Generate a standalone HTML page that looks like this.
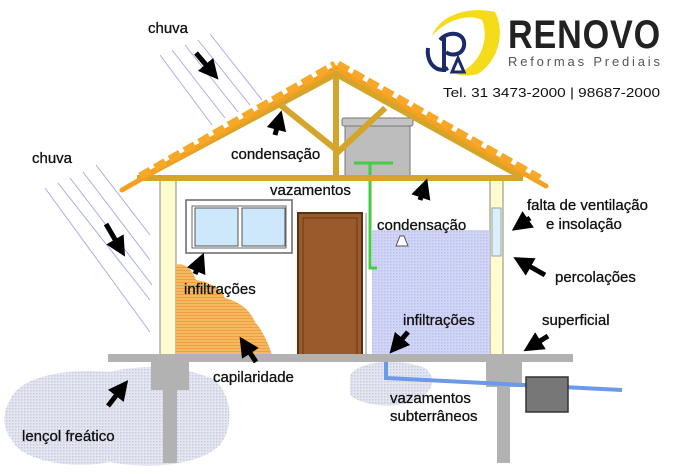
<!DOCTYPE html>
<html><head><meta charset="utf-8"><style>
html,body{margin:0;padding:0;background:#fff}
svg{display:block}
text{font-family:"Liberation Sans",sans-serif}
</style></head><body>
<svg width="681" height="474" viewBox="0 0 681 474" xmlns="http://www.w3.org/2000/svg">
<defs>
<pattern id="dots" width="3" height="3" patternUnits="userSpaceOnUse"><rect width="3" height="3" fill="#e4e6f0"/><rect width="1.5" height="1.5" fill="#c8cbe0"/></pattern>
<pattern id="blu" width="3" height="3" patternUnits="userSpaceOnUse"><rect width="3" height="3" fill="#d2d6f6"/><rect width="1.5" height="1.5" fill="#bcc0ee"/></pattern>
<pattern id="org" width="3" height="3" patternUnits="userSpaceOnUse"><rect width="3" height="3" fill="#f6b860"/><rect width="3" height="1" fill="#eca040"/></pattern>
<marker id="ah" markerWidth="4" markerHeight="4" refX="2" refY="2" orient="auto" markerUnits="strokeWidth"><path d="M0,0 L4,2 L0,4 z" fill="#000"/></marker>
</defs>
<path d="M10,400 C20,375 70,368 110,372 C150,362 190,368 215,380 C235,400 232,430 220,445 C200,465 150,470 110,462 C70,470 20,460 12,440 C0,425 4,410 10,400z" fill="url(#dots)"/>
<path d="M350,375 C360,360 400,358 425,368 C440,380 430,395 415,400 C395,410 360,405 350,395z" fill="url(#dots)"/>
<g stroke="#a8aee0" stroke-width="1">
<line x1="160" y1="55" x2="212" y2="125"/><line x1="172" y1="50" x2="225" y2="118"/><line x1="185" y1="45" x2="238" y2="112"/><line x1="198" y1="40" x2="250" y2="105"/><line x1="210" y1="34" x2="262" y2="100"/>
<line x1="45" y1="188" x2="150" y2="332"/><line x1="58" y1="183" x2="150" y2="300"/><line x1="70" y1="178" x2="152" y2="285"/><line x1="83" y1="172" x2="150" y2="260"/><line x1="96" y1="165" x2="150" y2="235"/>
</g>
<rect x="160" y="178" width="16" height="178" fill="#fffbd0" stroke="#8a8a70" stroke-width="1"/>
<rect x="490" y="178" width="13" height="178" fill="#fffbd0" stroke="#8a8a70" stroke-width="1"/>
<rect x="492" y="208" width="9" height="48" fill="#ddeeff" stroke="#8aa" stroke-width="1"/>
<rect x="372" y="230" width="118" height="126" fill="url(#blu)"/>
<path d="M176,265 C186,262 192,270 196,280 C210,282 220,288 225,298 C240,302 250,310 255,322 C262,330 268,342 272,355 L176,355z" fill="url(#org)"/>
<rect x="186" y="200" width="106" height="53" fill="#fff" stroke="#666" stroke-width="1.5"/>
<rect x="192" y="206" width="94" height="42" fill="#fff" stroke="#666" stroke-width="1"/>
<rect x="195" y="208" width="43" height="38" fill="#cde8fb" stroke="#555"/>
<rect x="242" y="208" width="43" height="38" fill="#cde8fb" stroke="#555"/>
<rect x="298" y="213" width="64" height="143" fill="#9b5a2c" stroke="#5a3010" stroke-width="2"/>
<rect x="303" y="218" width="54" height="138" fill="none" stroke="#6a3a15" stroke-width="1"/>
<line x1="366" y1="213" x2="366" y2="356" stroke="#888" stroke-width="1"/>
<path d="M396,246 L400,236 L404,236 L408,246z" fill="#fff" stroke="#555"/>
<rect x="345" y="124" width="65" height="52" fill="#bdbdbd" stroke="#777"/>
<rect x="342" y="118" width="71" height="8" rx="2" fill="#c4c4c4" stroke="#777"/>
<g stroke="#44cc44" stroke-width="3" fill="none"><line x1="354" y1="163" x2="393" y2="163"/><path d="M370,163 V268 H377"/></g>
<g stroke="#d4a52a" stroke-width="6" stroke-linecap="square">
<line x1="140" y1="178" x2="520" y2="178"/>
<line x1="145" y1="176" x2="336" y2="74"/>
<line x1="336" y1="74" x2="520" y2="176"/>
<line x1="336" y1="74" x2="336" y2="176"/>
<line x1="283" y1="107" x2="334" y2="148"/>
<line x1="338" y1="152" x2="383" y2="110"/>
</g>
<g stroke="#f5a020" stroke-width="5" fill="none" stroke-linecap="round">
<path d="M122,190 L336,68 L546,186"/>
</g>
<g stroke="#f7a828" stroke-width="7" stroke-dasharray="12 5">
<line x1="140" y1="176" x2="335" y2="64"/><line x1="338" y1="64" x2="540" y2="178"/>
</g>
<rect x="108" y="354" width="465" height="8" fill="#b2b2b2"/>
<rect x="151" y="362" width="38" height="28" fill="#b2b2b2"/>
<rect x="163" y="388" width="14" height="75" fill="#b2b2b2"/>
<rect x="486" y="362" width="36" height="25" fill="#b2b2b2"/>
<rect x="497" y="385" width="13" height="78" fill="#b2b2b2"/>
<path d="M386,362 V378 L622,390" stroke="#6a9ae8" stroke-width="4" fill="none"/>
<rect x="526" y="377" width="42" height="35" fill="#777" stroke="#333" stroke-width="1.5"/>
<g stroke="#000" stroke-width="5" marker-end="url(#ah)">
<line x1="196" y1="53" x2="212" y2="72"/>
<line x1="275" y1="135" x2="279" y2="120"/>
<line x1="106" y1="224" x2="120" y2="248"/>
<line x1="420" y1="200" x2="424" y2="188"/>
<line x1="530" y1="218" x2="520" y2="225"/>
<line x1="545" y1="275" x2="522" y2="262"/>
<line x1="195" y1="274" x2="200" y2="262"/>
<line x1="256" y1="362" x2="245" y2="345"/>
<line x1="408" y1="332" x2="396" y2="346"/>
<line x1="548" y1="336" x2="532" y2="346"/>
<line x1="108" y1="406" x2="122" y2="388"/>
</g>
<g font-size="15" fill="#111" stroke="#111" stroke-width="0.3">
<text x="148" y="33">chuva</text>
<text x="32" y="163">chuva</text>
<text x="231" y="159">condensação</text>
<text x="270" y="195">vazamentos</text>
<text x="377" y="230">condensação</text>
<text x="527" y="210">falta de ventilação</text>
<text x="546" y="229">e insolação</text>
<text x="555" y="282">percolações</text>
<text x="184" y="294">infiltrações</text>
<text x="403" y="325">infiltrações</text>
<text x="542" y="325">superficial</text>
<text x="213" y="382">capilaridade</text>
<text x="22" y="441">lençol freático</text>
<text x="390" y="403">vazamentos</text>
<text x="390" y="421">subterrâneos</text>
</g>
<path d="M432,36 C440,14 470,6 495,12 C505,30 500,60 478,74 C470,76 462,76 456,74 C480,66 490,40 482,20 C470,14 448,18 432,36z" fill="#f5dc1a"/>
<path d="M428,48 C426,64 438,74 448,68 M444,38 V72 M440,40 C448,30 466,32 464,46 C462,56 450,56 446,52" stroke="#1a2a6a" stroke-width="4" fill="none"/>
<path d="M452,72 L458,58 L464,72z" fill="none" stroke="#1a2a6a" stroke-width="3"/>
<text x="508" y="48" font-size="40" font-weight="bold" fill="#222" letter-spacing="1" textLength="153" lengthAdjust="spacingAndGlyphs">RENOVO</text>
<text x="508" y="66" font-size="13" fill="#555" textLength="152" lengthAdjust="spacing">Reformas Prediais</text>
<text x="443" y="97" font-size="13" fill="#111" textLength="217" lengthAdjust="spacingAndGlyphs">Tel. 31 3473-2000 | 98687-2000</text>
</svg>
</body></html>
